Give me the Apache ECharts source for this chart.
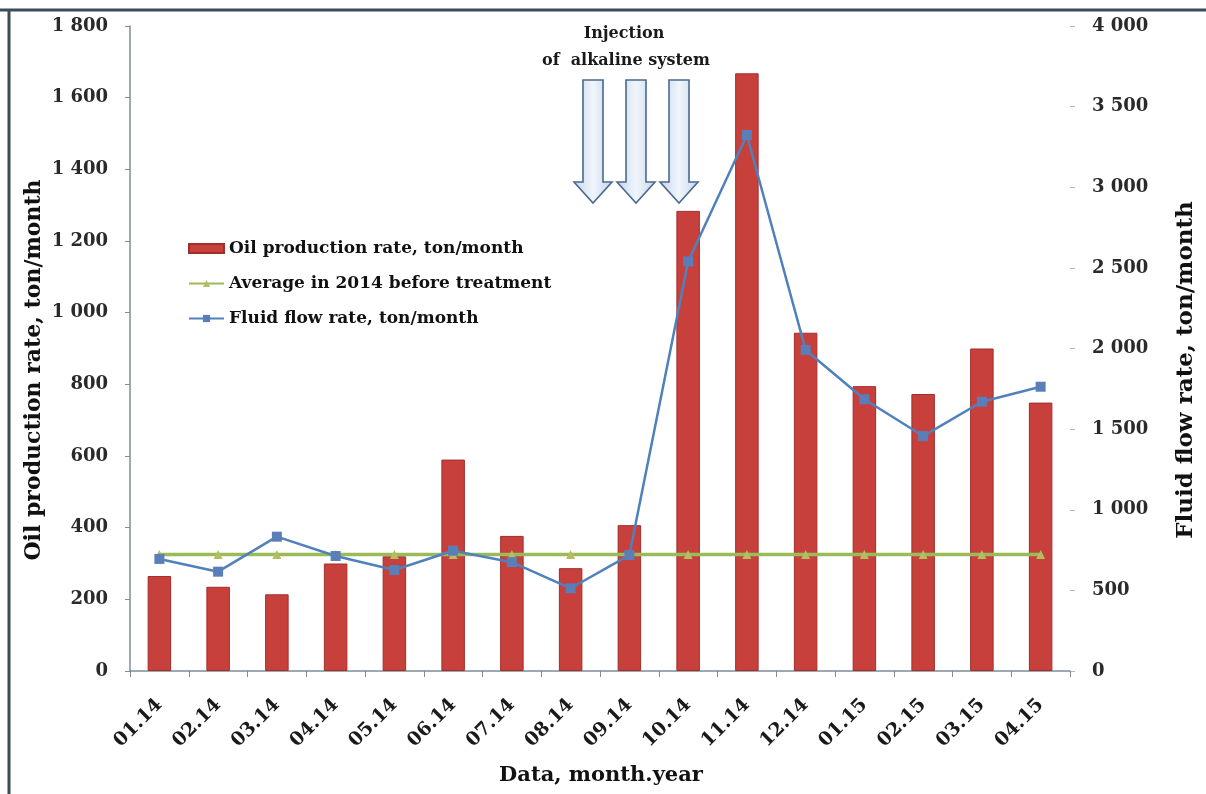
<!DOCTYPE html>
<html>
<head>
<meta charset="utf-8">
<title>Oil and fluid production</title>
<script src="https://cdn.jsdelivr.net/npm/echarts@6/dist/echarts.min.js"></script>
<style>
  html, body { margin: 0; padding: 0; background: #ffffff; }
  #chart { width: 1206px; height: 794px; }
</style>
</head>
<body>
<div id="chart"></div>
<script>
// Months (month.year)
const months = ['01.14', '02.14', '03.14', '04.14', '05.14', '06.14', '07.14', '08.14',
                '09.14', '10.14', '11.14', '12.14', '01.15', '02.15', '03.15', '04.15'];

// Oil production rate, ton/month (left axis)
const oilRate = [265, 235, 214, 300, 320, 590, 377, 287, 407, 1284, 1668, 944, 795, 773, 900, 749];

// Average oil rate in 2014 before treatment, ton/month (left axis)
const avgBefore = [325, 325, 325, 325, 325, 325, 325, 325, 325, 325, 325, 325, 325, 325, 325, 325];

// Fluid flow rate, ton/month (right axis)
const fluidRate = [695, 616, 833, 713, 626, 746, 675, 513, 719, 2540, 3324, 1991, 1685, 1457, 1670, 1763];

const SERIF = '"DejaVu Serif", "Liberation Serif", serif';

function spaced(v) {
  return String(v).replace(/\B(?=(\d{3})+(?!\d))/g, ' ');
}

// Hollow downward arrow drawn as a polygon around a center x
function arrow(cx) {
  const top = 80, neck = 182, tip = 203, shaft = 10, head = 19;
  return {
    type: 'polygon',
    shape: {
      points: [
        [cx - shaft, top], [cx + shaft, top], [cx + shaft, neck], [cx + head, neck],
        [cx, tip], [cx - head, neck], [cx - shaft, neck]
      ]
    },
    style: {
      fill: {
        type: 'linear', x: 0, y: 0, x2: 1, y2: 0,
        colorStops: [
          { offset: 0, color: '#c3d4ea' },
          { offset: 0.5, color: '#f1f6fc' },
          { offset: 1, color: '#c3d4ea' }
        ]
      },
      stroke: '#4a6a90',
      lineWidth: 1.6
    },
    z: 100
  };
}

const chart = echarts.init(document.getElementById('chart'));

chart.setOption({
  backgroundColor: '#ffffff',
  animation: false,
  grid: { left: 130, right: 136, top: 26, bottom: 123, containLabel: false },
  legend: {
    orient: 'vertical',
    left: 183,
    top: 235,
    itemWidth: 35,
    itemHeight: 9,
    itemGap: 18,
    textStyle: { fontFamily: SERIF, fontWeight: 'bold', fontSize: 17, color: '#111' },
    data: [
      { name: 'Oil production rate, ton/month', icon: 'rect' },
      { name: 'Average in 2014 before treatment' },
      { name: 'Fluid flow rate, ton/month' }
    ]
  },
  xAxis: {
    type: 'category',
    data: months,
    boundaryGap: true,
    axisLine: { lineStyle: { color: '#7f8c95', width: 1.5 } },
    axisTick: { show: true, alignWithLabel: false, length: 6, lineStyle: { color: '#7f8c95' } },
    axisLabel: {
      rotate: 45,
      margin: 31,
      interval: 0,
      fontFamily: SERIF,
      fontWeight: 'bold',
      fontSize: 19,
      color: '#1a1a1a'
    }
  },
  yAxis: [
    {
      type: 'value',
      min: 0, max: 1800, interval: 200,
      position: 'left',
      splitLine: { show: false },
      axisLine: { show: true, lineStyle: { color: '#7f8c95', width: 1.5 } },
      axisTick: { show: true, length: 5, lineStyle: { color: '#7f8c95' } },
      axisLabel: {
        margin: 22,
        fontFamily: SERIF, fontWeight: 'bold', fontSize: 18, color: '#2a2a2a',
        formatter: spaced
      }
    },
    {
      type: 'value',
      min: 0, max: 4000, interval: 500,
      position: 'right',
      splitLine: { show: false },
      axisLine: { show: false },
      axisTick: { show: true, length: 5, lineStyle: { color: '#b0b8bf' } },
      axisLabel: {
        margin: 22,
        fontFamily: SERIF, fontWeight: 'bold', fontSize: 18, color: '#2a2a2a',
        formatter: spaced
      }
    }
  ],
  series: [
    {
      name: 'Oil production rate, ton/month',
      type: 'bar',
      yAxisIndex: 0,
      data: oilRate,
      barWidth: '40%',
      itemStyle: { color: '#c8403c', borderColor: '#a02e2b', borderWidth: 1 },
      z: 2
    },
    {
      name: 'Average in 2014 before treatment',
      type: 'line',
      yAxisIndex: 0,
      data: avgBefore,
      symbol: 'triangle',
      symbolSize: 9,
      itemStyle: { color: '#b5bd62' },
      lineStyle: { color: '#9bbb59', width: 3.5 },
      z: 3
    },
    {
      name: 'Fluid flow rate, ton/month',
      type: 'line',
      yAxisIndex: 1,
      data: fluidRate,
      symbol: 'rect',
      symbolSize: 10,
      itemStyle: { color: '#5a7fb8' },
      lineStyle: { color: '#4f81bd', width: 2.5 },
      z: 4
    }
  ],
  graphic: [
    // frame edges
    { type: 'line', shape: { x1: 0, y1: 10, x2: 1206, y2: 10 }, style: { stroke: '#3c4b5a', lineWidth: 3 } },
    { type: 'line', shape: { x1: 9, y1: 10, x2: 9, y2: 794 }, style: { stroke: '#3c4b5a', lineWidth: 3 } },
    // axis titles
    {
      type: 'text', x: 34, y: 370, rotation: Math.PI / 2,
      style: {
        text: 'Oil production rate, ton/month', fontFamily: SERIF, fontWeight: 'bold',
        fontSize: 22, fill: '#111', align: 'center', verticalAlign: 'middle'
      }
    },
    {
      type: 'text', x: 1186, y: 370, rotation: Math.PI / 2,
      style: {
        text: 'Fluid flow rate, ton/month', fontFamily: SERIF, fontWeight: 'bold',
        fontSize: 23, fill: '#111', align: 'center', verticalAlign: 'middle'
      }
    },
    {
      type: 'text', x: 601, y: 776,
      style: {
        text: 'Data, month.year', fontFamily: SERIF, fontWeight: 'bold',
        fontSize: 21, fill: '#111', align: 'center', verticalAlign: 'middle'
      }
    },
    // treatment annotation
    {
      type: 'text', x: 624, y: 34,
      style: {
        text: 'Injection', fontFamily: SERIF, fontWeight: 'bold',
        fontSize: 16, fill: '#1a1a1a', align: 'center', verticalAlign: 'middle'
      }
    },
    {
      type: 'text', x: 626, y: 61,
      style: {
        text: 'of  alkaline system', fontFamily: SERIF, fontWeight: 'bold',
        fontSize: 16, fill: '#1a1a1a', align: 'center', verticalAlign: 'middle'
      }
    },
    arrow(593),
    arrow(636),
    arrow(679)
  ]
});
</script>
</body>
</html>
